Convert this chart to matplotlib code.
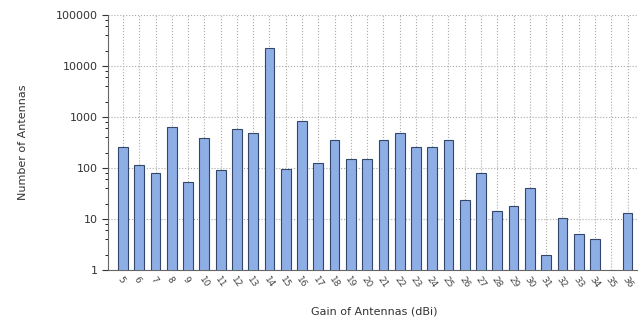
import matplotlib
matplotlib.use('Agg')
import matplotlib.pyplot as plt
from matplotlib.ticker import LogLocator, NullFormatter, FixedLocator
import numpy as np

gains = list(range(5, 37))
counts = [260, 115, 80, 650, 52, 380, 90, 580, 490, 23000,
          95, 850, 125, 350, 150, 150, 350, 480, 260, 260,
          350, 24, 80, 14, 18, 40, 2, 10.5, 5, 4,
          0, 13]
ytick_labels = ['1', '10', '100', '1000', '10000', '100000']

fig = plt.figure(figsize=(6.38, 3.26), dpi=100)
ax = fig.add_axes([0.169, 0.172, 0.835, 0.782])

x = np.arange(len(gains))
heights = [c if c > 0 else np.nan for c in counts]
ax.bar(x, heights, width=0.6, bottom=0, color='#8eaee6',
       edgecolor='#34466a', linewidth=0.8, zorder=3)

ax.set_yscale('log')
ax.set_ylim(1, 100000)
ax.set_xlim(-0.93, 31.8)
ax.yaxis.set_major_locator(FixedLocator([1, 10, 100, 1000, 10000, 100000]))
ax.set_yticklabels(ytick_labels)
ax.yaxis.set_minor_locator(LogLocator(base=10, subs=(2, 4, 6, 8)))
ax.yaxis.set_minor_formatter(NullFormatter())

ax.set_xticks(x)
ax.set_xticklabels([str(g) for g in gains], rotation=-55, ha='left',
                   rotation_mode='anchor', fontsize=6.5, color='#444444')
ax.tick_params(axis='y', labelsize=8, colors='#333333', length=4)
ax.tick_params(axis='y', which='minor', length=2)
ax.tick_params(axis='x', length=0, pad=4)

ax.grid(True, which='major', linestyle=':', color='#aaaaaa', linewidth=0.8, zorder=0)

for s in ['top', 'right']:
    ax.spines[s].set_visible(False)
for s in ['left', 'bottom']:
    ax.spines[s].set_color('#666666')

ax.set_xlabel('Gain of Antennas (dBi)', fontsize=8, color='#333333', labelpad=12)
ax.set_ylabel('Number of Antennas', fontsize=8, color='#333333', labelpad=20)

plt.savefig('out.png', dpi=100)
